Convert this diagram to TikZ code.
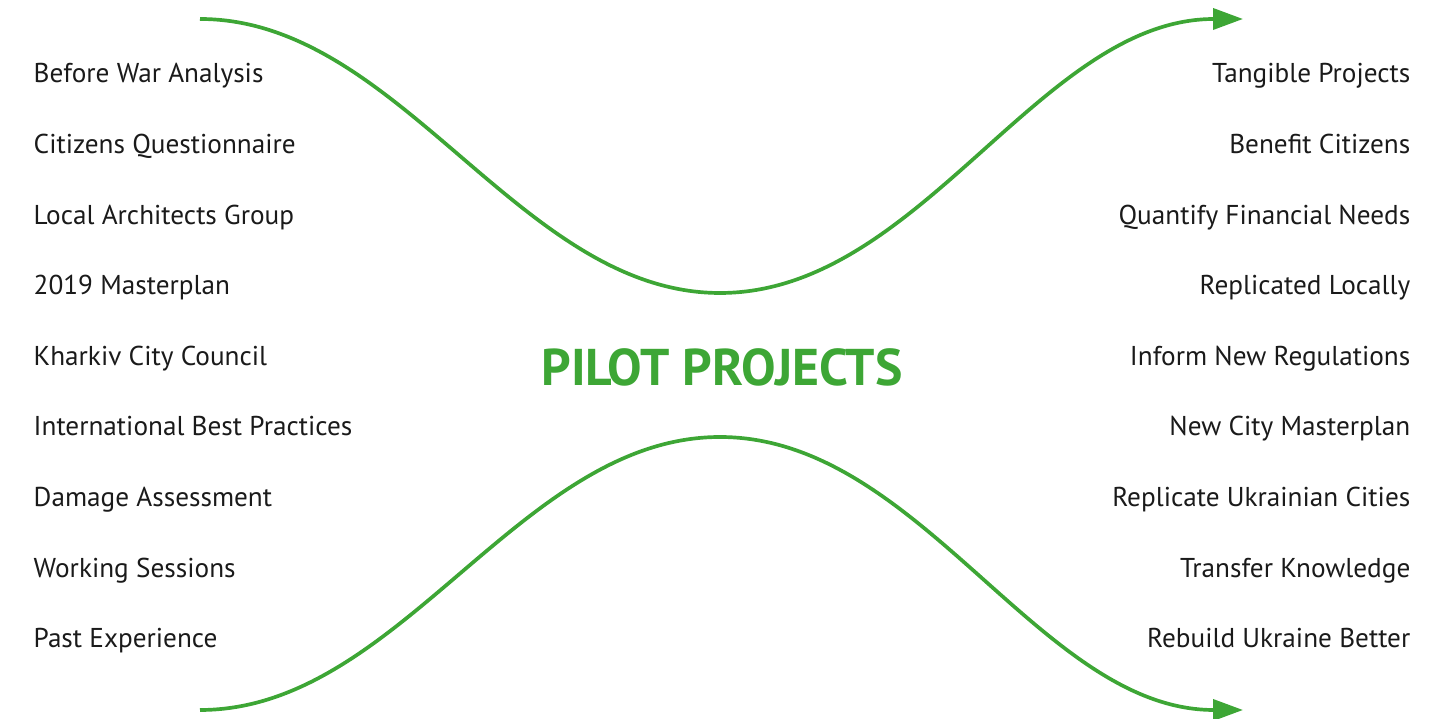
\documentclass[tikz,border=0pt]{standalone}
\usepackage{fontspec}
\setmainfont{PT Sans}
\usepackage{tikz}
\usetikzlibrary{positioning, arrows.meta}
\definecolor{leafgreen}{RGB}{61,166,53}
\definecolor{inkgray}{RGB}{26,26,26}

\begin{document}
\begin{tikzpicture}[
      font=\fontsize{7.75pt}{9.3pt}\selectfont,
      input/.style={anchor=base west, inner sep=0pt, text=inkgray},
      output/.style={anchor=base east, inner sep=0pt, text=inkgray},
      title/.style={anchor=base, inner sep=0pt, text=leafgreen,
                    font=\fontsize{14.7pt}{17.6pt}\selectfont\bfseries},
      flow/.style={draw=leafgreen, line width=1.05pt,
                   -{Triangle[length=0.30cm, width=0.21cm]}},
    ]
    \useasboundingbox (0,0) rectangle (14.52,7.19);
    % -- curve anchors --
    \coordinate (topL) at (2.00,7.00);
    \coordinate (topM) at (7.20,4.26);
    \coordinate (topR) at (12.43,7.00);
    \coordinate (botL) at (2.00,0.09);
    \coordinate (botM) at (7.20,2.82);
    \coordinate (botR) at (12.43,0.09);
    % -- title --
    \node[title] (pilot) at (7.22,3.33) {PILOT PROJECTS};
    % -- inputs (left) --
    \foreach \lab [count=\i from 0] in {Before War Analysis, Citizens Questionnaire,
        Local Architects Group, 2019 Masterplan, Kharkiv City Council,
        International Best Practices, Damage Assessment, Working Sessions,
        Past Experience}
      \node[input] (in\i) at (0.33,{6.36-0.706*\i}) {\lab};
    % -- outputs (right) --
    \foreach \lab [count=\i from 0] in {Tangible Projects, Benefit Citizens,
        Quantify Financial Needs, Replicated Locally, Inform New Regulations,
        New City Masterplan, Replicate Ukrainian Cities, Transfer Knowledge,
        Rebuild Ukraine Better}
      \node[output] (out\i) at (14.11,{6.36-0.706*\i}) {\lab};
    % -- flows --
    \draw[flow] (topL) .. controls (4.0,7.00) and (5.2,4.26) .. (topM)
                        .. controls (9.2,4.26) and (10.4,7.00) .. (topR);
    \draw[flow] (botL) .. controls (4.0,0.09) and (5.2,2.82) .. (botM)
                        .. controls (9.2,2.82) and (10.4,0.09) .. (botR);
  \end{tikzpicture}
\end{document}
